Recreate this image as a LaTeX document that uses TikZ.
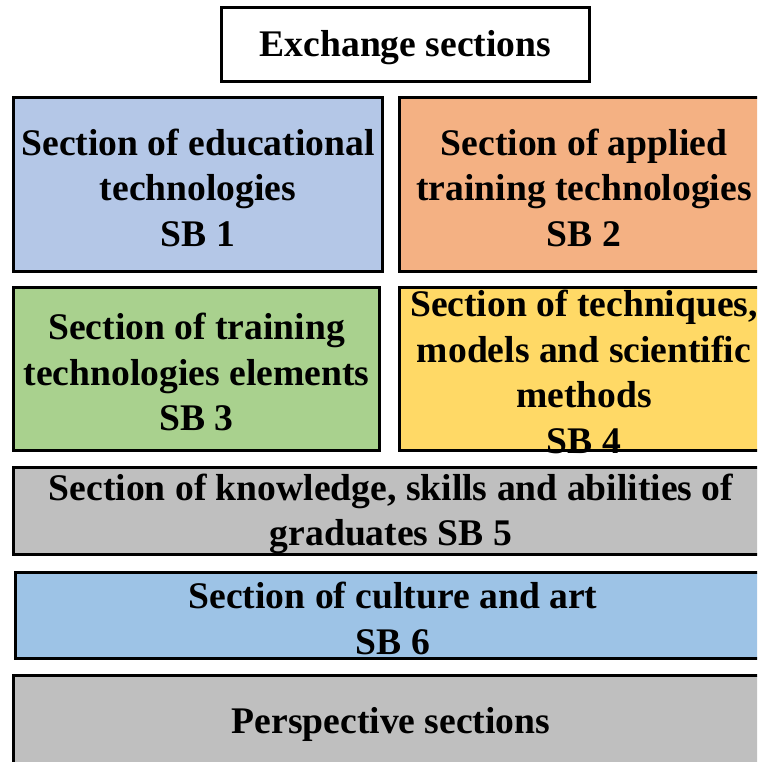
\documentclass[tikz,border=0pt]{standalone}
\usepackage{fontspec}
\setmainfont{Liberation Serif}
\usepackage{tikz}

\definecolor{sbblue}{HTML}{B4C7E7}
\definecolor{sborange}{HTML}{F4B183}
\definecolor{sbgreen}{HTML}{A9D18E}
\definecolor{sbyellow}{HTML}{FFD966}
\definecolor{sbgray}{HTML}{BFBFBF}
\definecolor{sbsky}{HTML}{9DC3E6}

\tikzset{
  secbox/.style={draw=black, line width=2.6pt, inner sep=0pt},
  sectext/.style={align=center, inner sep=0pt, yshift=-3pt,
    font=\bfseries\fontsize{37.6}{45.5}\selectfont}
}

\begin{document}
\begin{tikzpicture}[x=1pt,y=-1pt]
\useasboundingbox (0,0) rectangle (757,762);
\clip (0,0) rectangle (757,762);
\fill[white] (0,0) rectangle (757,762);
% top box
\node[secbox, fill=white, minimum width=368pt, minimum height=74pt] (exch) at (405.5,44.5) {};
\node[sectext] at (exch) {Exchange sections};
% two columns
\node[secbox, fill=sbblue, minimum width=369pt, minimum height=174pt] (sb1) at (198,184.5) {};
\node[sectext] at (sb1) {Section of educational\\technologies\\SB 1};
\node[secbox, fill=sborange, minimum width=369pt, minimum height=174pt] (sb2) at (584,184.5) {};
\node[sectext] at (sb2) {Section of applied\\training technologies\\SB 2};
\node[secbox, fill=sbgreen, minimum width=366pt, minimum height=163pt] (sb3) at (196.5,369) {};
\node[sectext] at (sb3) {Section of training\\technologies elements\\SB 3};
\node[secbox, fill=sbyellow, minimum width=369pt, minimum height=163pt] (sb4) at (584,369) {};
\node[sectext] at (sb4) {Section of techniques,\\models and scientific\\methods\\SB 4};
% full width rows
\node[secbox, fill=sbgray, minimum width=755pt, minimum height=87pt] (sb5) at (391,511) {};
\node[sectext] at (sb5) {Section of knowledge, skills and abilities of\\graduates SB 5};
\node[secbox, fill=sbsky, minimum width=755pt, minimum height=86pt] (sb6) at (393,615.5) {};
\node[sectext] at (sb6) {Section of culture and art\\SB 6};
\node[secbox, fill=sbgray, minimum width=755pt, minimum height=91pt] (persp) at (391,721) {};
\node[sectext] at (persp) {Perspective sections};
\end{tikzpicture}
\end{document}
